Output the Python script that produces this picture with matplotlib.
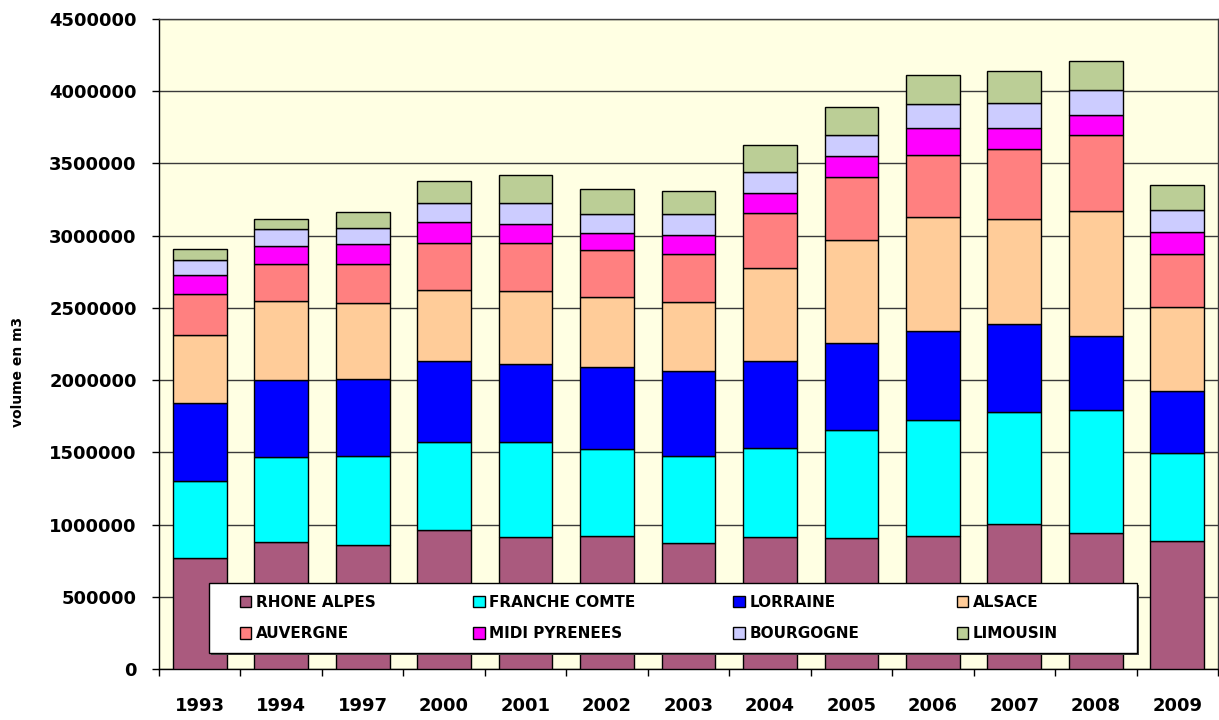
import numpy as np
from matplotlib import pyplot as plt
from matplotlib.patches import Rectangle

# Values (m3), one array per region, stacked bottom to top.
YEARS = ["1993", "1994", "1997", "2000", "2001", "2002", "2003",
         "2004", "2005", "2006", "2007", "2008", "2009"]
RHONE_ALPES = [771, 879, 858, 962, 916, 923, 875, 916, 905, 923, 1002, 944, 888]
FRANCHE_COMTE = [533, 587, 617, 607, 653, 600, 600, 616, 750, 801, 780, 847, 605]
LORRAINE = [535, 533, 533, 563, 543, 570, 588, 600, 600, 618, 607, 514, 432]
ALSACE = [476, 551, 524, 494, 505, 485, 476, 647, 715, 790, 724, 866, 579]
AUVERGNE = [281, 256, 274, 323, 332, 323, 332, 380, 438, 427, 485, 528, 369]
MIDI_PYRENEES = [134, 123, 134, 146, 134, 115, 136, 134, 141, 189, 150, 136, 152]
BOURGOGNE = [104, 117, 115, 133, 143, 134, 141, 150, 150, 164, 173, 171, 153]
LIMOUSIN = [72, 67, 107, 153, 192, 171, 164, 185, 194, 201, 219, 201, 173]

SERIES = [
    ("RHONE ALPES", RHONE_ALPES, "#aa5a7e"),
    ("FRANCHE COMTE", FRANCHE_COMTE, "#00ffff"),
    ("LORRAINE", LORRAINE, "#0000ff"),
    ("ALSACE", ALSACE, "#ffcc99"),
    ("AUVERGNE", AUVERGNE, "#ff8080"),
    ("MIDI PYRENEES", MIDI_PYRENEES, "#ff00ff"),
    ("BOURGOGNE", BOURGOGNE, "#ccccff"),
    ("LIMOUSIN", LIMOUSIN, "#bbce96"),
]
Y_TICKS = np.arange(0, 4500001, 500000)

plt.rcParams["font.family"] = ["DejaVu Sans"]
plt.rcParams["font.weight"] = "bold"

W, H = 1219, 720
fig = plt.figure(figsize=(W / 100, H / 100), dpi=100)
ax = fig.add_axes([159 / W, 51 / H, 1059 / W, 650 / H])
ax.set_facecolor("#ffffe3")

x = np.arange(len(YEARS))
bottom = np.zeros(len(YEARS))
handles = []
for name, vals, color in SERIES:
    v = np.asarray(vals, dtype=float) * 1000
    b = ax.bar(x, v, 0.66, bottom=bottom, color=color, edgecolor="black",
               linewidth=1.0, label=name, zorder=3)
    handles.append(b)
    bottom += v

ax.set_xlim(-0.5, len(YEARS) - 0.5)
ax.set_ylim(0, 4500000)
ax.set_yticks(Y_TICKS, [str(t) for t in Y_TICKS])
ax.set_xticks(x, YEARS)
ax.set_xticks(np.arange(-0.5, len(YEARS)), minor=True)
ax.yaxis.grid(True, color="#3a3a3a", lw=1.0, zorder=1)
ax.set_axisbelow(True)
ax.tick_params(axis="y", length=5, width=1, pad=11, labelsize=13, colors="black")
ax.tick_params(axis="x", which="major", length=0, pad=20, labelsize=13)
ax.tick_params(axis="x", which="minor", length=5, width=1, color="black")
for side, spine in ax.spines.items():
    spine.set_color("black" if side in ("left", "bottom") else "#3a3a3a")
    spine.set_linewidth(1.0)

fig.text(18 / W, 1 - 372 / H, "volume en m3", rotation=90, ha="center",
         va="center", fontsize=10, fontweight="bold")

# Legend frame with a small drop shadow, then the legend entries inside it.
x0, x1 = (209 - 159) / 1059, (1137 - 159) / 1059
y0, y1 = (669 - 653) / 650, (669 - 583) / 650
ax.add_patch(Rectangle((x0 + 2 / 1059, y0 - 2 / 650), x1 - x0, y1 - y0,
                       transform=ax.transAxes, facecolor="#444444",
                       edgecolor="none", zorder=6))
ax.add_patch(Rectangle((x0, y0), x1 - x0, y1 - y0, transform=ax.transAxes,
                       facecolor="white", edgecolor="black", lw=1.0, zorder=7))
# matplotlib fills legend columns first; reorder so rows read like the reference
order = [0, 4, 1, 5, 2, 6, 3, 7]
lx0, lx1 = (240 - 159) / 1059, (1058 - 159) / 1059
leg = ax.legend(handles=[handles[i] for i in order], ncol=4, mode="expand",
                loc="center", bbox_to_anchor=(lx0, y0, lx1 - lx0, y1 - y0),
                frameon=False, fontsize=11, handlelength=0.75,
                handleheight=0.75, handletextpad=0.3, labelspacing=1.1,
                borderpad=0.0, borderaxespad=0.0)
leg.set_zorder(8)

fig.savefig("out.png", facecolor="white")
